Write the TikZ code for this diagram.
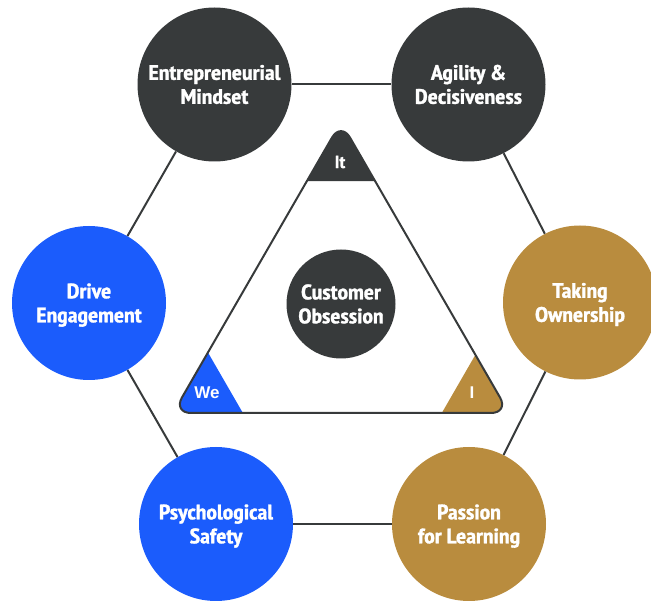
\documentclass[tikz,border=0pt]{standalone}
\usepackage{fontspec}
\setmainfont{PT Sans Narrow}[BoldFont={PT Sans Narrow Bold}, BoldFeatures={FakeBold=1.3}, FakeStretch=1.13]
\newfontfamily\tagfont{Liberation Sans}
\usetikzlibrary{calc}
\definecolor{dark}{HTML}{373A3B}
\definecolor{bluec}{HTML}{1B5CFC}
\definecolor{gold}{HTML}{B98C3E}
\begin{document}
\begin{tikzpicture}[x=1pt,y=-1pt,
  hub/.style={circle, minimum size=154pt, inner sep=0pt, text=white,
    font=\bfseries\fontsize{21}{24}\selectfont, align=center,
    text height=38.7pt, text depth=0pt},
  link/.style={draw=dark, line width=2pt},
  tagc/.style={text=white, font=\bfseries\fontsize{17.5}{20}\selectfont, inner sep=0pt},
  tagw/.style={text=white, font=\tagfont\bfseries\fontsize{17}{20}\selectfont, inner sep=0pt}]
\useasboundingbox (0,0) rectangle (651,601);
% hexagon circles
\node[hub, fill=dark] (em) at (214.5,84.5) {Entrepreneurial\\Mindset};
\node[hub, fill=dark] (ad) at (468.5,84.5) {Agility \&\\Decisiveness};
\node[hub, fill=gold] (to) at (580,302.5) {Taking\\Ownership};
\node[hub, fill=gold] (pl) at (469,524) {Passion\\for Learning};
\node[hub, fill=bluec] (ps) at (216,524) {Psychological\\Safety};
\node[hub, fill=bluec] (de) at (89,303) {Drive\\Engagement};
% connectors
\draw[link] (em) -- (ad);
\draw[link] (ad) -- (to);
\draw[link] (to) -- (pl);
\draw[link] (pl) -- (ps);
\draw[link] (ps) -- (de);
\draw[link] (de) -- (em);
% triangle
\coordinate (tA) at (341,122);
\coordinate (tB) at (173,413);
\coordinate (tC) at (509,413);
\begin{scope}
\clip[rounded corners=18pt] (tA) -- (tB) -- (tC) -- cycle;
\fill[dark] (tA) -- ($(tA)!0.203!(tB)$) -- ($(tA)!0.203!(tC)$) -- cycle;
\fill[bluec] (tB) -- ($(tB)!0.208!(tA)$) -- ($(tB)!0.208!(tC)$) -- cycle;
\fill[gold] (tC) -- ($(tC)!0.2!(tA)$) -- ($(tC)!0.2!(tB)$) -- cycle;
\end{scope}
\draw[dark, line width=2pt, rounded corners=18pt] (tA) -- (tB) -- (tC) -- cycle;
\node[tagc] (it) at (340,162) {It};
\node[tagw] (we) at (207,393) {We};
\node[tagw] (ii) at (472,393) {I};
% center
\node[hub, fill=dark, minimum size=109pt] (co) at (341,304) {Customer\\Obsession};
\end{tikzpicture}
\end{document}
